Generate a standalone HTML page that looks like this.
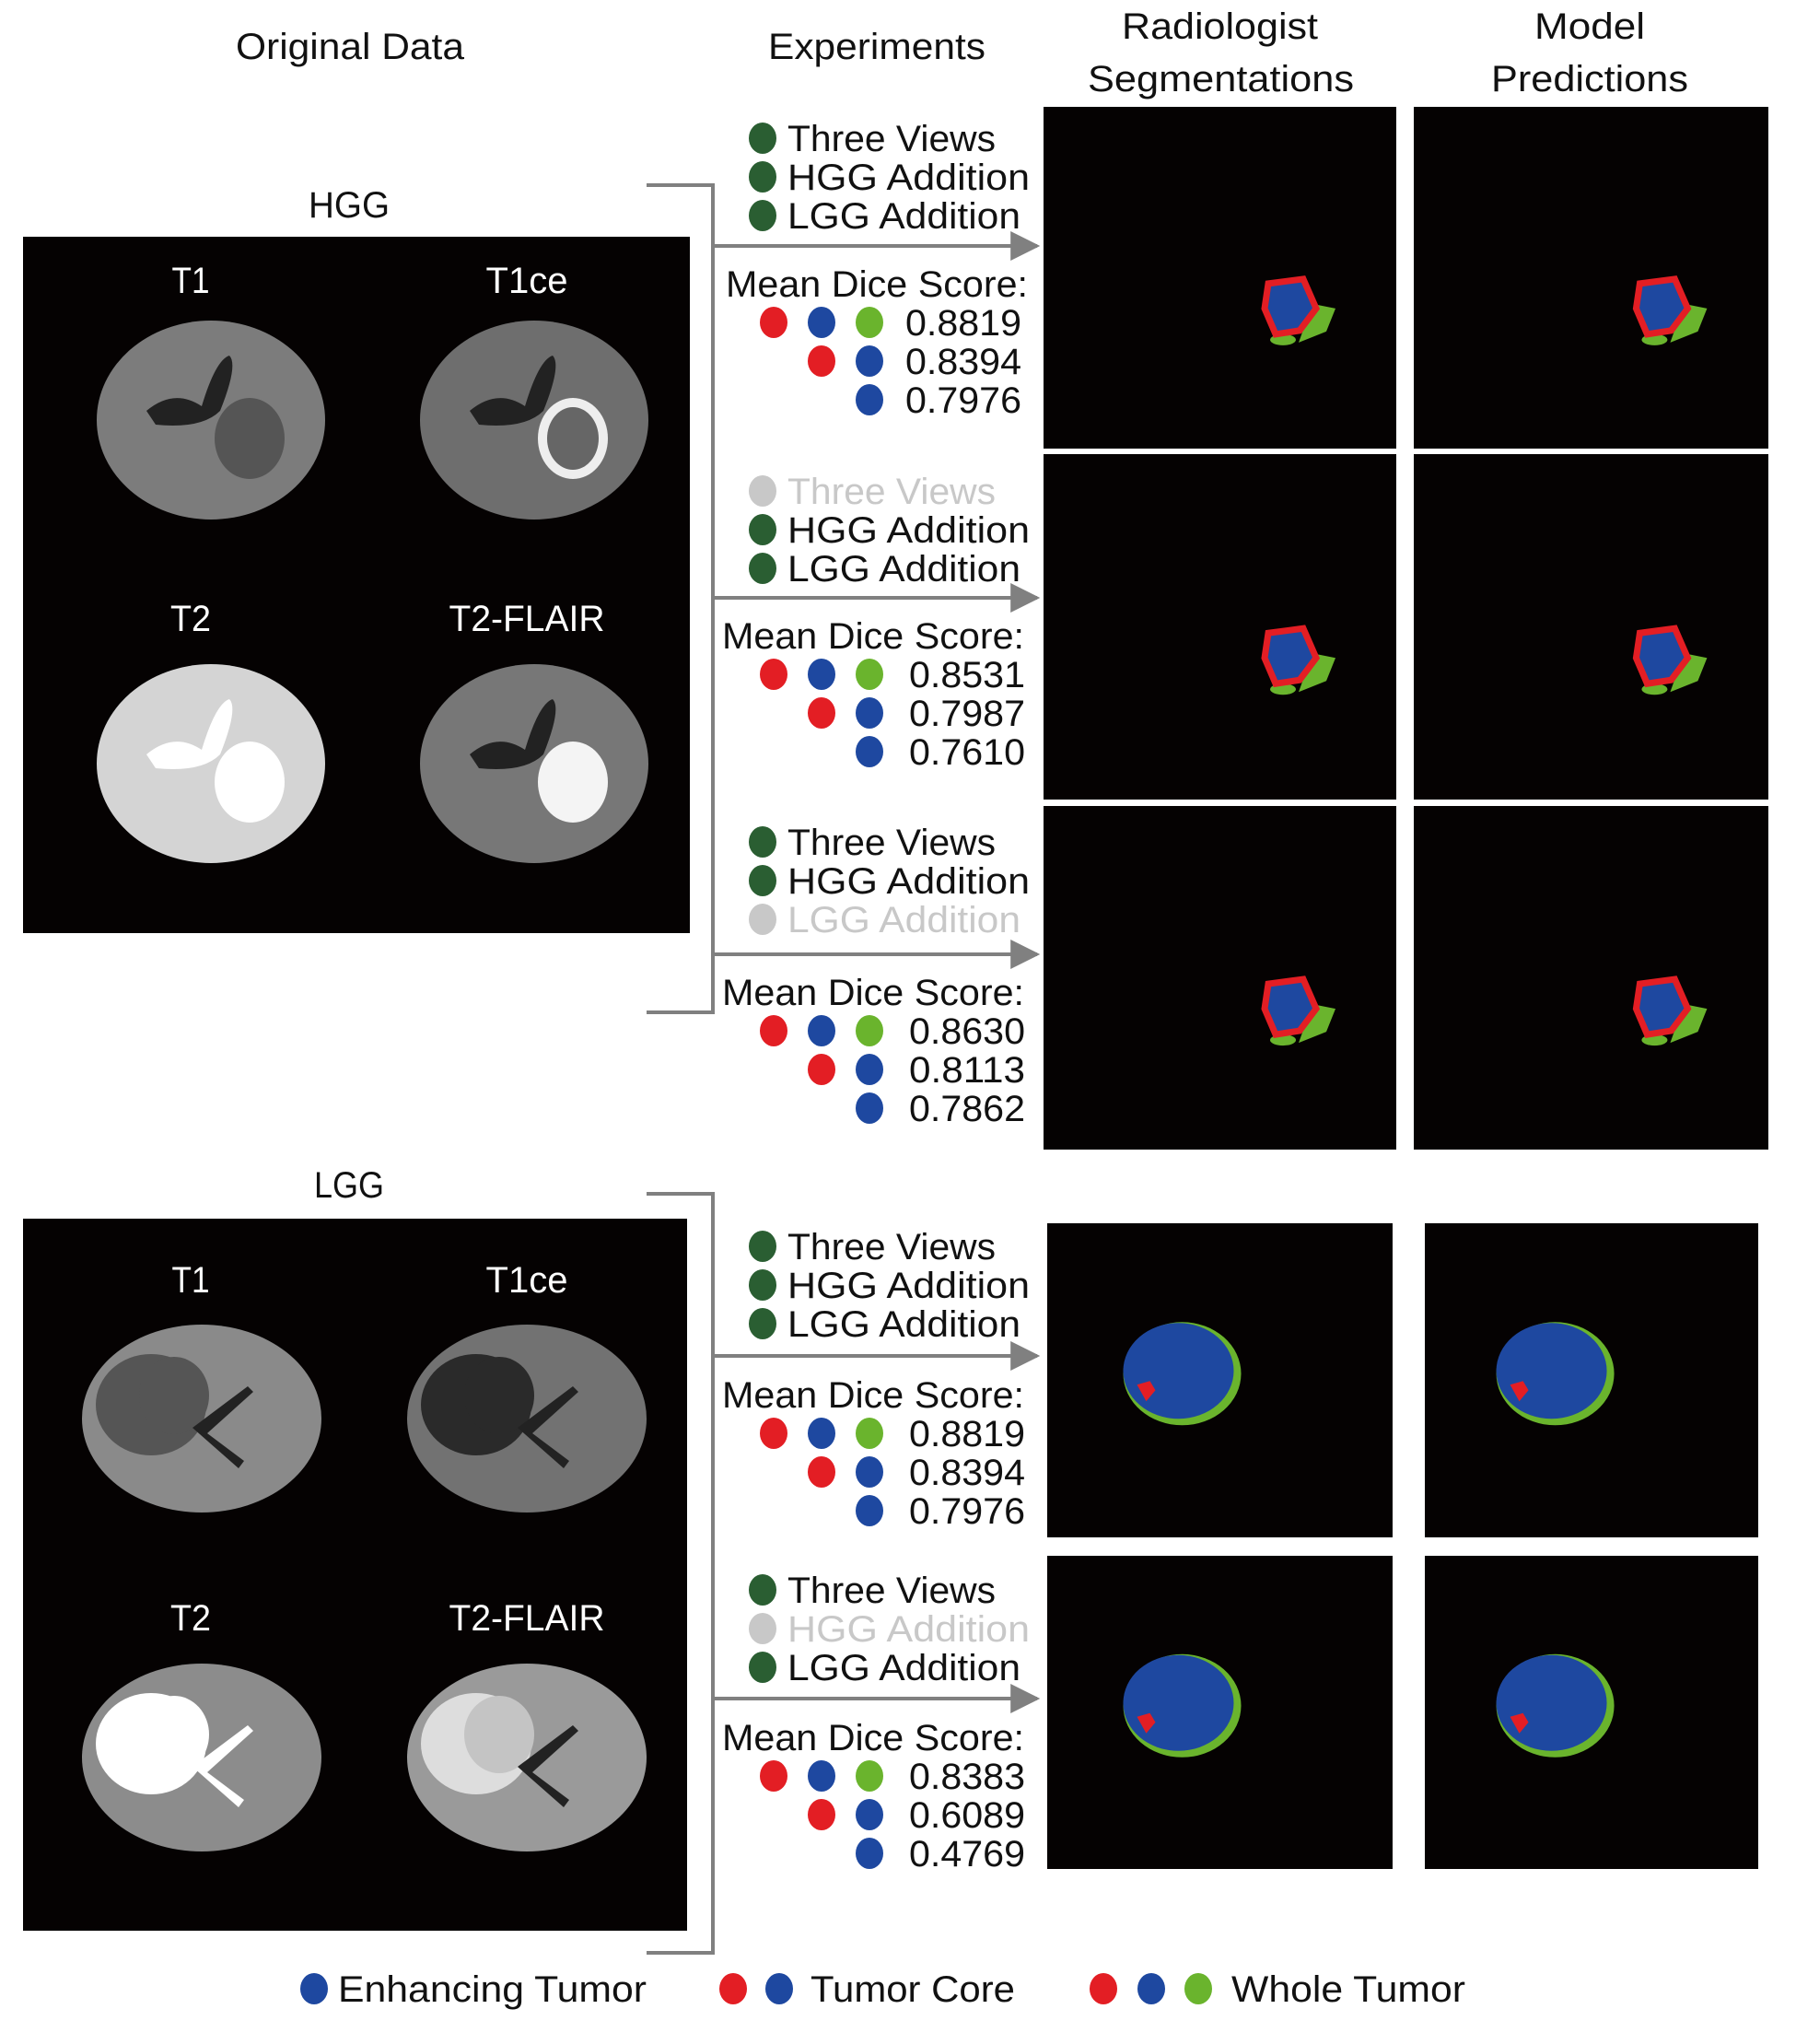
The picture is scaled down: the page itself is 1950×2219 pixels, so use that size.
<!DOCTYPE html>
<html><head><meta charset="utf-8"><style>
html,body{margin:0;padding:0;background:#fff;}
svg{display:block;}
text{font-family:"Liberation Sans Narrow","Liberation Sans",sans-serif;fill:#111;}
</style></head><body>
<svg id="fig" xmlns="http://www.w3.org/2000/svg" width="1950" height="2219" viewBox="0 0 1950 2219">
<defs>
<marker id="arr" viewBox="0 0 10 10" refX="9" refY="5" markerWidth="8" markerHeight="8" orient="auto"><path d="M0,0 L10,5 L0,10 z" fill="#808080"/></marker>
</defs>
<g id="titles">
<text x="256" y="64" font-size="40" textLength="248" lengthAdjust="spacingAndGlyphs">Original Data</text>
<text x="834" y="64" font-size="40" textLength="236" lengthAdjust="spacingAndGlyphs">Experiments</text>
<text x="1218" y="42" font-size="40" textLength="213" lengthAdjust="spacingAndGlyphs">Radiologist</text>
<text x="1181" y="99" font-size="40" textLength="289" lengthAdjust="spacingAndGlyphs">Segmentations</text>
<text x="1666" y="42" font-size="40" textLength="120" lengthAdjust="spacingAndGlyphs">Model</text>
<text x="1619" y="99" font-size="40" textLength="214" lengthAdjust="spacingAndGlyphs">Predictions</text>
</g>
<g id="dyn"></g>
</svg>
<script>
const NS='http://www.w3.org/2000/svg';
const fig=document.getElementById('dyn');
// ---- data ----
const groups=['HGG','LGG'];
const expLabels=['Three Views','HGG Addition','LGG Addition'];
const expActive=[[1,1,1],[0,1,1],[1,1,0],[1,1,1],[1,0,1]];
const wholeScores=[0.8819,0.8531,0.8630,0.8819,0.8383];
const coreScores=[0.8394,0.7987,0.8113,0.8394,0.6089];
const enhScores=[0.7976,0.7610,0.7862,0.7976,0.4769];
const modalities=['T1','T1ce','T2','T2-FLAIR'];
const legendLabels=['Enhancing Tumor','Tumor Core','Whole Tumor'];
// ---- layout ----
const C={dg:'#2a5e32',red:'#e31e24',blue:'#1e48a0',lg:'#6ab42d',gray:'#c8c8c8',line:'#808080'};
const blockY=[150,533,914,1353,1726];
const diceY=[308,690,1077,1514,1886];
const arrowY=[267,649,1036,1472,1844];
function el(tag,attrs,parent){const e=document.createElementNS(NS,tag);for(const k in attrs)e.setAttribute(k,attrs[k]);(parent||fig).appendChild(e);return e;}
function txt(s,x,y,size,w,fill,parent){const t=el('text',{x:x,y:y,'font-size':size,textLength:w,lengthAdjust:'spacingAndGlyphs'},parent);if(fill)t.setAttribute('style','fill:'+fill);t.textContent=s;return t;}
function dot(x,y,c,parent){return el('ellipse',{cx:x,cy:y,rx:15,ry:17,fill:c},parent);}

// ---- original data boxes ----
const boxes=[{x:25,y:257,w:724,h:756,ly:222,lab:[304,671],br:[456,829]},{x:25,y:1323,w:721,h:773,ly:1286,lab:[1389,1756],br:[1540,1908]}];
const labW={'T1':41,'T1ce':89,'T2':44,'T2-FLAIR':169};
boxes.forEach((b,gi)=>{
  const g=el('g',{});
  
  
  const gl=txt(groups[gi],379-(gi?38:44),b.ly+14,40,gi?76:88,null,g);
  
  
  el('rect',{x:b.x,y:b.y,width:b.w,height:b.h,fill:'#050202'},g);
  modalities.forEach((m,mi)=>{
    const cx=mi%2?(gi?572:580):(gi?219:229);
    const cy=b.br[mi>>1];
    const ly=b.lab[mi>>1];
    const lx=mi%2?572:207;
    const t=txt(m,lx-labW[m]/2,ly+14,40,labW[m],'#fff',g);
    
    
    const base=[['#7c7c7c','#6e6e6e','#d4d4d4','#777'],['#8a8a8a','#727272','#8c8c8c','#9a9a9a']][gi][mi];
    const bg=el('g',{},g);
    
    
    const rx=gi?130:124, ry=gi?102:108;
    el('ellipse',{cx:cx,cy:cy,rx:rx,ry:ry,fill:base},bg);
    if(gi===0){
      el('path',{d:`M${cx-70},${cy-10} q30,-25 60,-5 q15,-50 30,-55 q10,10 -10,60 q-20,20 -70,15 z`,fill:mi===2?'#fff':'#222'},bg);
      const tc=[ '#555','#eee','#fff','#f4f4f4'][mi];
      el('ellipse',{cx:cx+42,cy:cy+20,rx:38,ry:44,fill:tc},bg);
      if(mi===1)el('ellipse',{cx:cx+42,cy:cy+20,rx:28,ry:34,fill:'#666'},bg);
    }else{
      const tc=['#555','#2a2a2a','#fff','#ddd'][mi];
      el('ellipse',{cx:cx-55,cy:cy-15,rx:60,ry:55,fill:tc},bg);
      el('ellipse',{cx:cx-30,cy:cy-25,rx:38,ry:42,fill:mi===3?'#c4c4c4':tc},bg);
      el('path',{d:`M${cx-10},${cy+10} l60,-45 l6,6 l-50,45 l40,30 l-6,8 z`,fill:mi===2?'#fff':'#222'},bg);
    }
  });
});

// ---- brackets ----
function bracket(y1,y2,name){
  const p=el('path',{d:`M702,${y1} H774 V${y2} H702`,fill:'none',stroke:C.line,'stroke-width':4});
  
  
}
bracket(201,1099,'hgg-bracket');
bracket(1296,2120,'lgg-bracket');

// ---- experiment blocks ----
const expW=[226,263,253];
blockY.forEach((by,k)=>{
  const g=el('g',{});
  
  
  expLabels.forEach((lab,i)=>{
    const y=by+i*42;
    const c=expActive[k][i]?C.dg:C.gray;
    dot(828,y,c,g);
    const t=txt(lab,855,y+14,40,expW[i],expActive[k][i]?'#111':C.gray,g);
    
    
  });
  const a=el('line',{x1:774,y1:arrowY[k],x2:1126,y2:arrowY[k],stroke:C.line,'stroke-width':4,'marker-end':'url(#arr)'},g);
  
  
  const md=txt('Mean Dice Score:',k?784:788,diceY[k]+14,40,328,null,g);
  
  
  const rows=[[C.red,C.blue,C.lg],[C.red,C.blue],[C.blue]];
  const vals=[wholeScores[k],coreScores[k],enhScores[k]];
  rows.forEach((cols,r)=>{
    const y=diceY[k]+42*(r+1);
    cols.forEach((c,j)=>dot(944-52*(cols.length-1-j),y,c,g));
    const t=txt(vals[r].toFixed(4),k?987:983,y+14,40,126,null,g);
    
    
  });
});

// ---- segmentation panels ----
const panelsH=[[116,487],[493,868],[875,1248]];
const panelsL=[[1328,1669],[1689,2029]];
const colsH=[[1133,1516],[1535,1920]];
const colsL=[[1137,1512],[1547,1909]];
function drawPanels(rows,cols,prefix,big){
  rows.forEach((r,ri)=>cols.forEach((c,ci)=>{
    const g=el('g',{});
    
    
    el('rect',{x:c[0],y:r[0],width:c[1]-c[0],height:r[1]-r[0],fill:'#050202'},g);
    const w=c[1]-c[0],h=r[1]-r[0];
    if(!big){
      const cx=c[0]+w*0.705, cy=r[0]+h*0.59;
      el('path',{d:`M${cx+22},${cy-5} l25,5 l-10,25 l-30,12 z`,fill:C.lg},g);
      el('ellipse',{cx:cx-10,cy:cy+34,rx:14,ry:6,fill:C.lg},g);
      el('path',{d:`M${cx-26},${cy-27} L${cx+12},${cy-32} L${cx+26},${cy} L${cx+8},${cy+24} L${cx-18},${cy+28} L${cx-30},${cy} Z`,fill:C.blue,stroke:C.red,'stroke-width':7},g);
    }else{
      const cx=c[0]+w*0.38, cy=r[0]+h*0.47;
      el('ellipse',{cx:cx+4,cy:cy+3,rx:64,ry:56,fill:C.lg},g);
      el('ellipse',{cx:cx,cy:cy,rx:60,ry:52,fill:C.blue},g);
      el('path',{d:`M${cx-45},${cy+15} l14,-4 l6,10 l-10,12 z`,fill:C.red},g);
    }
  }));
}
drawPanels(panelsH,colsH,'hgg',false);
drawPanels(panelsL,colsL,'lgg',true);

// ---- legend ----
const lg=el('g',{});


const legDots=[[[341,C.blue]],[[796,C.red],[846,C.blue]],[[1198,C.red],[1250,C.blue],[1301,C.lg]]];
const legX=[367,880,1337], legW=[335,222,254];
legendLabels.forEach((l,i)=>{
  const e=el('g',{},lg);
  
  
  legDots[i].forEach(d=>dot(d[0],2159,d[1],e));
  txt(l,legX[i],2173,40,legW[i],null,e);
});
</script>
</body></html>
